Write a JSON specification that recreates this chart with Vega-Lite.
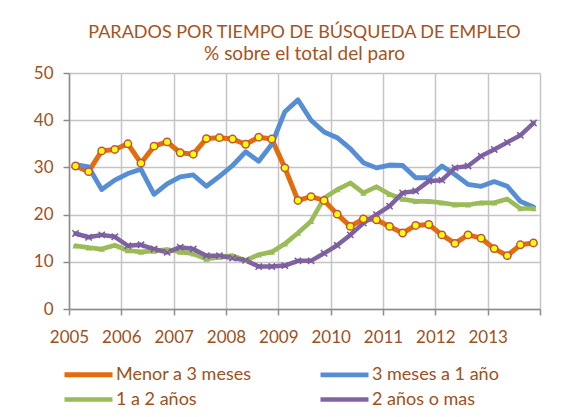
{
  "$schema": "https://vega.github.io/schema/vega-lite/v6.json",
  "width": 471,
  "height": 236,
  "autosize": {"type": "none"},
  "padding": {"left": 69, "top": 73, "right": 45, "bottom": 108},
  "background": "white",
  "title": {
    "text": "PARADOS POR TIEMPO DE BÚSQUEDA DE EMPLEO",
    "subtitle": "% sobre el total del paro",
    "anchor": "middle",
    "font": "Lato",
    "fontSize": 18,
    "fontWeight": "normal",
    "color": "#A5521B",
    "subtitleFont": "Lato",
    "subtitleFontSize": 19,
    "subtitleColor": "#A5521B",
    "subtitlePadding": 3,
    "offset": 0
  },
  "config": {
    "view": {"stroke": null},
    "axis": {
      "labelFont": "Lato",
      "labelFontSize": 17,
      "labelColor": "#A0501A",
      "domainColor": "#8C8C8C",
      "domainWidth": 1.5,
      "tickColor": "#8C8C8C",
      "tickWidth": 1.5,
      "tickSize": 6,
      "gridColor": "#C4C4C4",
      "gridWidth": 1.5,
      "title": null
    },
    "legend": {
      "labelFont": "Lato",
      "labelFontSize": 18,
      "labelColor": "#A0501A"
    }
  },
  "data": {
    "values": [
      {"t": 2005.125, "s": "Menor a 3 meses", "v": 30.3},
      {"t": 2005.375, "s": "Menor a 3 meses", "v": 29.1},
      {"t": 2005.625, "s": "Menor a 3 meses", "v": 33.5},
      {"t": 2005.875, "s": "Menor a 3 meses", "v": 33.8},
      {"t": 2006.125, "s": "Menor a 3 meses", "v": 35.0},
      {"t": 2006.375, "s": "Menor a 3 meses", "v": 30.9},
      {"t": 2006.625, "s": "Menor a 3 meses", "v": 34.5},
      {"t": 2006.875, "s": "Menor a 3 meses", "v": 35.4},
      {"t": 2007.125, "s": "Menor a 3 meses", "v": 33.1},
      {"t": 2007.375, "s": "Menor a 3 meses", "v": 32.8},
      {"t": 2007.625, "s": "Menor a 3 meses", "v": 36.1},
      {"t": 2007.875, "s": "Menor a 3 meses", "v": 36.3},
      {"t": 2008.125, "s": "Menor a 3 meses", "v": 36.0},
      {"t": 2008.375, "s": "Menor a 3 meses", "v": 34.9},
      {"t": 2008.625, "s": "Menor a 3 meses", "v": 36.4},
      {"t": 2008.875, "s": "Menor a 3 meses", "v": 36.0},
      {"t": 2009.125, "s": "Menor a 3 meses", "v": 29.9},
      {"t": 2009.375, "s": "Menor a 3 meses", "v": 23.0},
      {"t": 2009.625, "s": "Menor a 3 meses", "v": 23.8},
      {"t": 2009.875, "s": "Menor a 3 meses", "v": 23.0},
      {"t": 2010.125, "s": "Menor a 3 meses", "v": 20.1},
      {"t": 2010.375, "s": "Menor a 3 meses", "v": 17.5},
      {"t": 2010.625, "s": "Menor a 3 meses", "v": 19.1},
      {"t": 2010.875, "s": "Menor a 3 meses", "v": 18.9},
      {"t": 2011.125, "s": "Menor a 3 meses", "v": 17.5},
      {"t": 2011.375, "s": "Menor a 3 meses", "v": 16.1},
      {"t": 2011.625, "s": "Menor a 3 meses", "v": 17.7},
      {"t": 2011.875, "s": "Menor a 3 meses", "v": 17.9},
      {"t": 2012.125, "s": "Menor a 3 meses", "v": 15.7},
      {"t": 2012.375, "s": "Menor a 3 meses", "v": 13.9},
      {"t": 2012.625, "s": "Menor a 3 meses", "v": 15.7},
      {"t": 2012.875, "s": "Menor a 3 meses", "v": 15.0},
      {"t": 2013.125, "s": "Menor a 3 meses", "v": 12.8},
      {"t": 2013.375, "s": "Menor a 3 meses", "v": 11.3},
      {"t": 2013.625, "s": "Menor a 3 meses", "v": 13.6},
      {"t": 2013.875, "s": "Menor a 3 meses", "v": 14.0},

      {"t": 2005.125, "s": "3 meses a 1 año", "v": 30.6},
      {"t": 2005.375, "s": "3 meses a 1 año", "v": 30.1},
      {"t": 2005.625, "s": "3 meses a 1 año", "v": 25.3},
      {"t": 2005.875, "s": "3 meses a 1 año", "v": 27.3},
      {"t": 2006.125, "s": "3 meses a 1 año", "v": 28.7},
      {"t": 2006.375, "s": "3 meses a 1 año", "v": 29.6},
      {"t": 2006.625, "s": "3 meses a 1 año", "v": 24.3},
      {"t": 2006.875, "s": "3 meses a 1 año", "v": 26.5},
      {"t": 2007.125, "s": "3 meses a 1 año", "v": 28.0},
      {"t": 2007.375, "s": "3 meses a 1 año", "v": 28.4},
      {"t": 2007.625, "s": "3 meses a 1 año", "v": 26.0},
      {"t": 2007.875, "s": "3 meses a 1 año", "v": 28.1},
      {"t": 2008.125, "s": "3 meses a 1 año", "v": 30.4},
      {"t": 2008.375, "s": "3 meses a 1 año", "v": 33.3},
      {"t": 2008.625, "s": "3 meses a 1 año", "v": 31.3},
      {"t": 2008.875, "s": "3 meses a 1 año", "v": 34.9},
      {"t": 2009.125, "s": "3 meses a 1 año", "v": 41.8},
      {"t": 2009.375, "s": "3 meses a 1 año", "v": 44.3},
      {"t": 2009.625, "s": "3 meses a 1 año", "v": 40.0},
      {"t": 2009.875, "s": "3 meses a 1 año", "v": 37.5},
      {"t": 2010.125, "s": "3 meses a 1 año", "v": 36.3},
      {"t": 2010.375, "s": "3 meses a 1 año", "v": 34.0},
      {"t": 2010.625, "s": "3 meses a 1 año", "v": 31.0},
      {"t": 2010.875, "s": "3 meses a 1 año", "v": 29.9},
      {"t": 2011.125, "s": "3 meses a 1 año", "v": 30.5},
      {"t": 2011.375, "s": "3 meses a 1 año", "v": 30.4},
      {"t": 2011.625, "s": "3 meses a 1 año", "v": 27.8},
      {"t": 2011.875, "s": "3 meses a 1 año", "v": 27.8},
      {"t": 2012.125, "s": "3 meses a 1 año", "v": 30.3},
      {"t": 2012.375, "s": "3 meses a 1 año", "v": 28.5},
      {"t": 2012.625, "s": "3 meses a 1 año", "v": 26.4},
      {"t": 2012.875, "s": "3 meses a 1 año", "v": 26.0},
      {"t": 2013.125, "s": "3 meses a 1 año", "v": 27.0},
      {"t": 2013.375, "s": "3 meses a 1 año", "v": 26.0},
      {"t": 2013.625, "s": "3 meses a 1 año", "v": 22.8},
      {"t": 2013.875, "s": "3 meses a 1 año", "v": 21.6},

      {"t": 2005.125, "s": "1 a 2 años", "v": 13.4},
      {"t": 2005.375, "s": "1 a 2 años", "v": 13.0},
      {"t": 2005.625, "s": "1 a 2 años", "v": 12.7},
      {"t": 2005.875, "s": "1 a 2 años", "v": 13.5},
      {"t": 2006.125, "s": "1 a 2 años", "v": 12.4},
      {"t": 2006.375, "s": "1 a 2 años", "v": 12.1},
      {"t": 2006.625, "s": "1 a 2 años", "v": 12.3},
      {"t": 2006.875, "s": "1 a 2 años", "v": 12.6},
      {"t": 2007.125, "s": "1 a 2 años", "v": 12.1},
      {"t": 2007.375, "s": "1 a 2 años", "v": 11.7},
      {"t": 2007.625, "s": "1 a 2 años", "v": 10.6},
      {"t": 2007.875, "s": "1 a 2 años", "v": 11.0},
      {"t": 2008.125, "s": "1 a 2 años", "v": 11.3},
      {"t": 2008.375, "s": "1 a 2 años", "v": 10.3},
      {"t": 2008.625, "s": "1 a 2 años", "v": 11.5},
      {"t": 2008.875, "s": "1 a 2 años", "v": 12.1},
      {"t": 2009.125, "s": "1 a 2 años", "v": 13.8},
      {"t": 2009.375, "s": "1 a 2 años", "v": 16.1},
      {"t": 2009.625, "s": "1 a 2 años", "v": 18.6},
      {"t": 2009.875, "s": "1 a 2 años", "v": 23.5},
      {"t": 2010.125, "s": "1 a 2 años", "v": 25.3},
      {"t": 2010.375, "s": "1 a 2 años", "v": 26.7},
      {"t": 2010.625, "s": "1 a 2 años", "v": 24.6},
      {"t": 2010.875, "s": "1 a 2 años", "v": 25.9},
      {"t": 2011.125, "s": "1 a 2 años", "v": 24.3},
      {"t": 2011.375, "s": "1 a 2 años", "v": 23.3},
      {"t": 2011.625, "s": "1 a 2 años", "v": 22.8},
      {"t": 2011.875, "s": "1 a 2 años", "v": 22.8},
      {"t": 2012.125, "s": "1 a 2 años", "v": 22.5},
      {"t": 2012.375, "s": "1 a 2 años", "v": 22.1},
      {"t": 2012.625, "s": "1 a 2 años", "v": 22.1},
      {"t": 2012.875, "s": "1 a 2 años", "v": 22.5},
      {"t": 2013.125, "s": "1 a 2 años", "v": 22.5},
      {"t": 2013.375, "s": "1 a 2 años", "v": 23.3},
      {"t": 2013.625, "s": "1 a 2 años", "v": 21.3},
      {"t": 2013.875, "s": "1 a 2 años", "v": 21.3},

      {"t": 2005.125, "s": "2 años o mas", "v": 16.0},
      {"t": 2005.375, "s": "2 años o mas", "v": 15.2},
      {"t": 2005.625, "s": "2 años o mas", "v": 15.7},
      {"t": 2005.875, "s": "2 años o mas", "v": 15.3},
      {"t": 2006.125, "s": "2 años o mas", "v": 13.4},
      {"t": 2006.375, "s": "2 años o mas", "v": 13.6},
      {"t": 2006.625, "s": "2 años o mas", "v": 12.7},
      {"t": 2006.875, "s": "2 años o mas", "v": 12.0},
      {"t": 2007.125, "s": "2 años o mas", "v": 13.1},
      {"t": 2007.375, "s": "2 años o mas", "v": 12.7},
      {"t": 2007.625, "s": "2 años o mas", "v": 11.3},
      {"t": 2007.875, "s": "2 años o mas", "v": 11.3},
      {"t": 2008.125, "s": "2 años o mas", "v": 10.8},
      {"t": 2008.375, "s": "2 años o mas", "v": 10.3},
      {"t": 2008.625, "s": "2 años o mas", "v": 9.0},
      {"t": 2008.875, "s": "2 años o mas", "v": 9.0},
      {"t": 2009.125, "s": "2 años o mas", "v": 9.2},
      {"t": 2009.375, "s": "2 años o mas", "v": 10.2},
      {"t": 2009.625, "s": "2 años o mas", "v": 10.2},
      {"t": 2009.875, "s": "2 años o mas", "v": 11.8},
      {"t": 2010.125, "s": "2 años o mas", "v": 13.5},
      {"t": 2010.375, "s": "2 años o mas", "v": 15.7},
      {"t": 2010.625, "s": "2 años o mas", "v": 18.2},
      {"t": 2010.875, "s": "2 años o mas", "v": 20.0},
      {"t": 2011.125, "s": "2 años o mas", "v": 21.8},
      {"t": 2011.375, "s": "2 años o mas", "v": 24.6},
      {"t": 2011.625, "s": "2 años o mas", "v": 25.0},
      {"t": 2011.875, "s": "2 años o mas", "v": 27.1},
      {"t": 2012.125, "s": "2 años o mas", "v": 27.3},
      {"t": 2012.375, "s": "2 años o mas", "v": 29.9},
      {"t": 2012.625, "s": "2 años o mas", "v": 30.3},
      {"t": 2012.875, "s": "2 años o mas", "v": 32.4},
      {"t": 2013.125, "s": "2 años o mas", "v": 33.8},
      {"t": 2013.375, "s": "2 años o mas", "v": 35.3},
      {"t": 2013.625, "s": "2 años o mas", "v": 36.8},
      {"t": 2013.875, "s": "2 años o mas", "v": 39.4}
    ]
  },
  "encoding": {
    "x": {
      "field": "t",
      "type": "quantitative",
      "scale": {"domain": [2005, 2014], "nice": false, "zero": false},
      "axis": {
        "values": [2005, 2006, 2007, 2008, 2009, 2010, 2011, 2012, 2013, 2014],
        "labelExpr": "datum.value == 2014 ? '' : format(datum.value, 'd')",
        "labelDx": 7,
        "labelPadding": 14,
        "labelFlush": false,
        "labelOverlap": false
      }
    },
    "y": {
      "field": "v",
      "type": "quantitative",
      "scale": {"domain": [0, 50], "nice": false},
      "axis": {"values": [0, 10, 20, 30, 40, 50], "labelPadding": 10}
    }
  },
  "layer": [
    {
      "mark": {"type": "line", "strokeJoin": "round", "strokeCap": "round"},
      "encoding": {
        "color": {
          "field": "s",
          "type": "nominal",
          "scale": {
            "domain": ["Menor a 3 meses", "3 meses a 1 año", "1 a 2 años", "2 años o mas"],
            "range": ["#E46C0A", "#558ED5", "#9BBB59", "#8064A2"]
          },
          "legend": {
            "title": null,
            "orient": "none",
            "legendX": 9,
            "legendY": 291,
            "direction": "horizontal",
            "columns": 2,
            "columnPadding": 58,
            "rowPadding": 4,
            "symbolType": "M-3,0H3",
            "symbolSize": 256,
            "symbolStrokeWidth": 5,
            "labelOffset": 17,
            "padding": 0
          }
        },
        "strokeWidth": {
          "field": "s",
          "type": "nominal",
          "scale": {
            "domain": ["Menor a 3 meses", "3 meses a 1 año", "1 a 2 años", "2 años o mas"],
            "range": [5, 4.5, 5, 3]
          },
          "legend": null
        }
      }
    },
    {
      "transform": [{"filter": "datum.s == '1 a 2 años'"}],
      "mark": {"type": "point", "shape": "triangle-up", "filled": true, "color": "#9BBB59", "size": 40, "opacity": 1}
    },
    {
      "transform": [{"filter": "datum.s == '2 años o mas'"}],
      "mark": {"type": "point", "shape": "M-1,-1L1,1M1,-1L-1,1", "filled": false, "stroke": "#7A5C9E", "strokeWidth": 1.5, "size": 40, "opacity": 1}
    },
    {
      "transform": [{"filter": "datum.s == 'Menor a 3 meses'"}],
      "mark": {"type": "point", "shape": "circle", "filled": true, "fill": "#FFFF00", "stroke": "#C0504D", "strokeWidth": 1.5, "size": 55, "opacity": 1}
    }
  ]
}
